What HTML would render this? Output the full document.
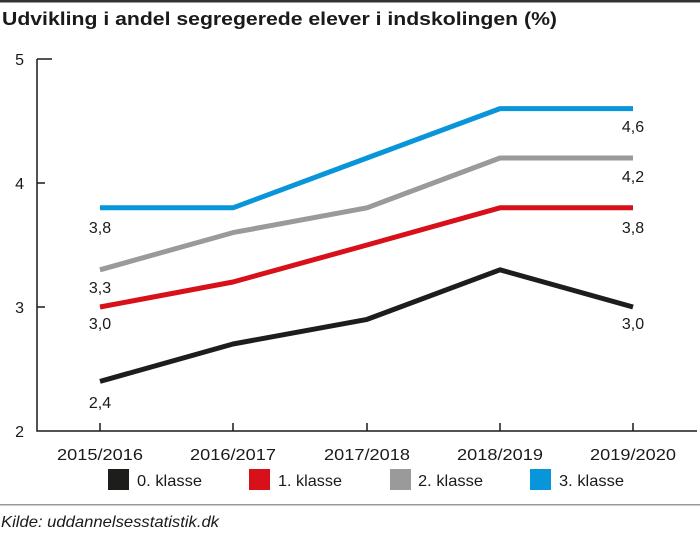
<!DOCTYPE html>
<html><head><meta charset="utf-8"><style>
body{margin:0;background:#fff;}
svg text{font-family:"Liberation Sans",sans-serif;}
</style></head><body>
<svg width="700" height="531" viewBox="0 0 700 531" xmlns="http://www.w3.org/2000/svg">
<rect x="0" y="0" width="700" height="2.5" fill="#333"/>
<text x="2" y="25" font-size="18" font-weight="bold" fill="#1a1a1a" textLength="555" lengthAdjust="spacingAndGlyphs">Udvikling i andel segregerede elever i indskolingen (%)</text>
<g stroke="#1a1a1a" stroke-width="1.5" fill="none">
<path d="M37 59 H52 M37 59 V431 H697"/>
<path d="M37 183 H45 M37 307 H45"/>
<path d="M100 431 V423 M233 431 V423 M367 431 V423 M500 431 V423 M633 431 V423"/>
</g>
<g font-size="16" fill="#1a1a1a" text-anchor="end">
<text x="24" y="65">5</text><text x="24" y="189">4</text><text x="24" y="313">3</text><text x="24" y="437">2</text>
</g>
<g font-size="16" fill="#1a1a1a" text-anchor="middle">
<text x="100" y="460" textLength="86" lengthAdjust="spacingAndGlyphs">2015/2016</text><text x="233" y="460" textLength="86" lengthAdjust="spacingAndGlyphs">2016/2017</text><text x="367" y="460" textLength="86" lengthAdjust="spacingAndGlyphs">2017/2018</text><text x="500" y="460" textLength="86" lengthAdjust="spacingAndGlyphs">2018/2019</text><text x="633" y="460" textLength="86" lengthAdjust="spacingAndGlyphs">2019/2020</text>
</g>
<g fill="none" stroke-width="5" stroke-linejoin="round">
<polyline stroke="#1d1d1b" points="100,381.4 233,344 367,319.4 500,269.8 633,307"/>
<polyline stroke="#d7101a" points="100,307 233,282 367,245 500,207.8 633,207.8"/>
<polyline stroke="#9a9a9a" points="100,269.8 233,232.6 367,207.8 500,158 633,158"/>
<polyline stroke="#0995d9" points="100,207.8 233,207.8 367,158 500,108.6 633,108.6"/>
</g>
<g font-size="16" fill="#1a1a1a" text-anchor="middle">
<text x="100" y="233">3,8</text><text x="100" y="293">3,3</text><text x="100" y="329">3,0</text><text x="100" y="408">2,4</text>
<text x="633" y="132">4,6</text><text x="633" y="182">4,2</text><text x="633" y="233">3,8</text><text x="633" y="329">3,0</text>
</g>
<rect x="108" y="469" width="21" height="21" fill="#1d1d1b"/>
<rect x="249" y="469" width="21" height="21" fill="#d7101a"/>
<rect x="390" y="469" width="21" height="21" fill="#9a9a9a"/>
<rect x="530" y="469" width="21" height="21" fill="#0995d9"/>
<g font-size="16" fill="#1a1a1a">
<text x="137" y="486" textLength="65" lengthAdjust="spacingAndGlyphs">0. klasse</text><text x="278" y="486" textLength="64" lengthAdjust="spacingAndGlyphs">1. klasse</text><text x="418" y="486" textLength="65" lengthAdjust="spacingAndGlyphs">2. klasse</text><text x="559" y="486" textLength="65" lengthAdjust="spacingAndGlyphs">3. klasse</text>
</g>
<rect x="0" y="504" width="700" height="1.5" fill="#999"/>
<text x="1" y="527" font-size="16" font-style="italic" fill="#1a1a1a" textLength="218" lengthAdjust="spacingAndGlyphs">Kilde: uddannelsesstatistik.dk</text>
</svg>
</body></html>
